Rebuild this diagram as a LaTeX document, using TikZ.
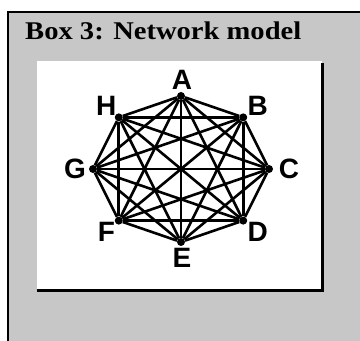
\documentclass[tikz,border=0pt]{standalone}
\usepackage{fontspec}
\setmainfont{Liberation Serif}
\setsansfont{Liberation Sans}
\usetikzlibrary{positioning}

\begin{document}
\begin{tikzpicture}[x=1pt, y=1pt,
    edge/.style={line width=2.6pt, black},
    vert/.style={circle, fill=black, minimum size=8pt, inner sep=0pt},
    lbl/.style={font=\sffamily\bfseries\fontsize{28}{28}\selectfont, inner sep=0pt}
  ]
  \useasboundingbox (0,0) rectangle (360,341);

  % Box frame
  \fill[black!22] (8,0) rectangle (360,329);
  \draw[line width=1.6pt] (8,0) -- (8,329) -- (360,329);
  \node[font=\bfseries\fontsize{25.5}{25.5}\selectfont, anchor=base west,
        inner sep=0pt, xscale=1.12] (title) at (25,301) {Box 3: Network model};

  % Panel with shadow edge
  \fill[white] (37,50) rectangle (322,280);
  \draw[line width=3pt] (37,50) -- (322.5,50) -- (322.5,278);

  % Vertices and labels
  \foreach \n/\a [count=\i] in {A/90, B/45, C/0, D/-45, E/-90, F/-135, G/180, H/135}{
    \node[vert] (v\i) at ({181+88*cos(\a)}, {172+73*sin(\a)}) {};
    \node[lbl] (l\i) at ({182+107*cos(\a)}, {172+89*sin(\a)}) {\n};
  }

  % Connections
  \foreach \i in {1,...,7}{
    \pgfmathtruncatemacro\nxt{\i+1}
    \foreach \j in {\nxt,...,8}{
      \draw[edge] (v\i) -- (v\j);
    }
  }
\end{tikzpicture}
\end{document}
